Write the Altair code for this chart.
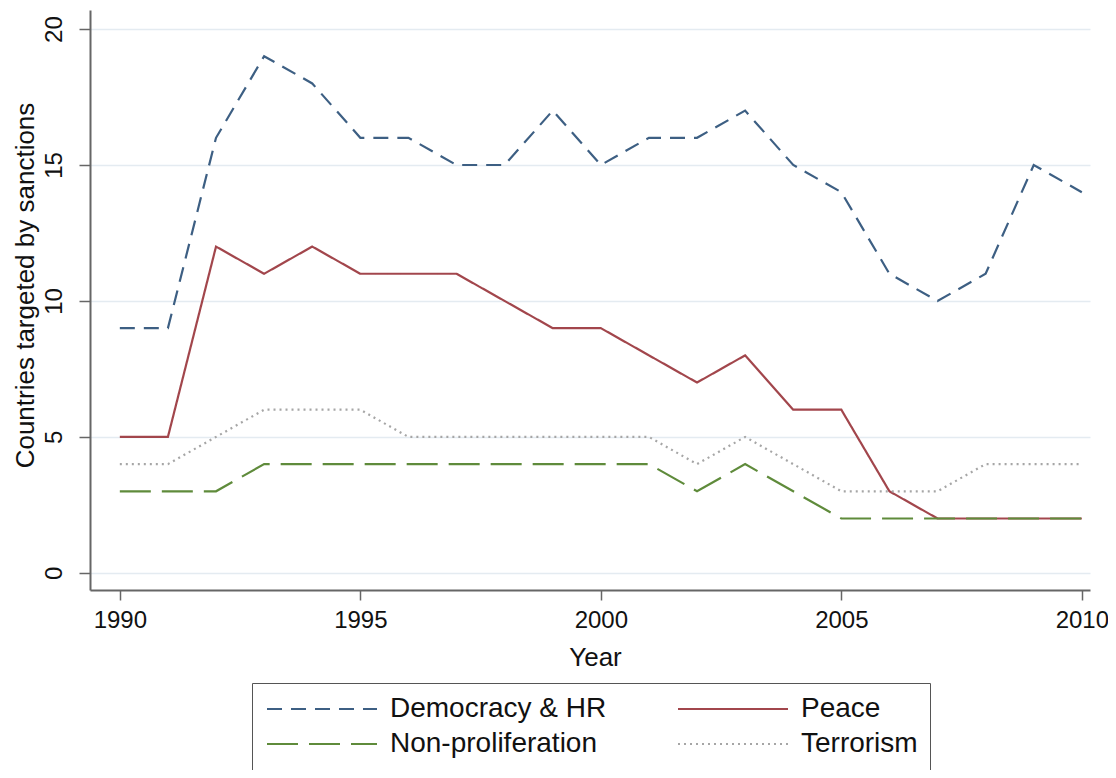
import altair as alt
import pandas as pd

years = list(range(1990, 2011))
democracy = [9, 9, 16, 19, 18, 16, 16, 15, 15, 17, 15, 16, 16, 17, 15, 14, 11, 10, 11, 15, 14]
peace = [5, 5, 12, 11, 12, 11, 11, 11, 10, 9, 9, 8, 7, 8, 6, 6, 3, 2, 2, 2, 2]
nonprolif = [3, 3, 3, 4, 4, 4, 4, 4, 4, 4, 4, 4, 3, 4, 3, 2, 2, 2, 2, 2, 2]
terrorism = [4, 4, 5, 6, 6, 6, 5, 5, 5, 5, 5, 5, 4, 5, 4, 3, 3, 3, 4, 4, 4]

series_names = ["Democracy & HR", "Peace", "Non-proliferation", "Terrorism"]
series_values = [democracy, peace, nonprolif, terrorism]
colors = ["#3d5f83", "#a2464c", "#5f8b3b", "#a6a6a6"]
dashes = [[15, 9], [1, 0], [31, 11], [2, 4]]

x_ticks = [1990, 1995, 2000, 2005, 2010]
y_ticks = [0, 5, 10, 15, 20]

rows = []
for name, vals in zip(series_names, series_values):
    for yr, v in zip(years, vals):
        rows.append({"year": yr, "value": v, "series": name})
df = pd.DataFrame(rows)

FONT = "Liberation Sans"

legend_cfg = dict(
    orient="none", legendX=162, legendY=673, columns=2, direction="horizontal",
    symbolType="M-1,0H9", symbolSize=484, symbolStrokeWidth=2.2,
    symbolFillColor="transparent",
    labelFontSize=28, labelFont=FONT, labelColor="#111", labelOffset=98,
    labelLimit=400,
    columnPadding=66, rowPadding=7, padding=12,
    strokeColor="#555", fillColor="white",
)

chart = alt.Chart(df).mark_line(strokeWidth=2.2).encode(
    x=alt.X(
        "year:Q",
        scale=alt.Scale(domain=[1989.38, 2010.17], nice=False, zero=False),
        axis=alt.Axis(
            values=x_ticks, format="d", title="Year", grid=False,
            labelFontSize=24, labelFont=FONT, labelColor="#111",
            tickSize=10, tickColor="#666", tickWidth=1.5,
            domainColor="#666", domainWidth=2,
            labelPadding=8, labelBaseline="top", labelFlush=False,
            titleFontSize=26, titleFont=FONT, titleColor="#111", titleFontWeight="normal",
            titleX=505, titleY=75, titleBaseline="alphabetic", titleAlign="center",
        ),
    ),
    y=alt.Y(
        "value:Q",
        scale=alt.Scale(domain=[-0.63, 20.7], nice=False, zero=False),
        axis=alt.Axis(
            values=y_ticks, title="Countries targeted by sanctions",
            grid=True, gridColor="#e4ebf1", gridWidth=1.5,
            labelFontSize=24, labelFont=FONT, labelColor="#111",
            labelAngle=270, labelAlign="center", labelBaseline="bottom",
            labelPadding=13, labelFlush=False,
            tickSize=11, tickColor="#666", tickWidth=1.5,
            domainColor="#666", domainWidth=2,
            titleFontSize=26, titleFont=FONT, titleColor="#111", titleFontWeight="normal",
            titleAngle=270, titleX=-57, titleY=275, titleBaseline="alphabetic", titleAlign="center",
        ),
    ),
    color=alt.Color(
        "series:N",
        scale=alt.Scale(domain=series_names, range=colors),
        title=None,
        legend=alt.Legend(**legend_cfg),
    ),
    strokeDash=alt.StrokeDash(
        "series:N",
        scale=alt.Scale(domain=series_names, range=dashes),
        title=None,
        legend=alt.Legend(**legend_cfg),
    ),
).properties(
    width=1000,
    height=580,
    autosize=alt.AutoSizeParams(type="none"),
    padding={"left": 82, "top": 2, "right": 18, "bottom": 180},
    background="white",
).configure_view(strokeWidth=0)

chart.save("out.html", embed_options={"renderer": "svg", "actions": False})
